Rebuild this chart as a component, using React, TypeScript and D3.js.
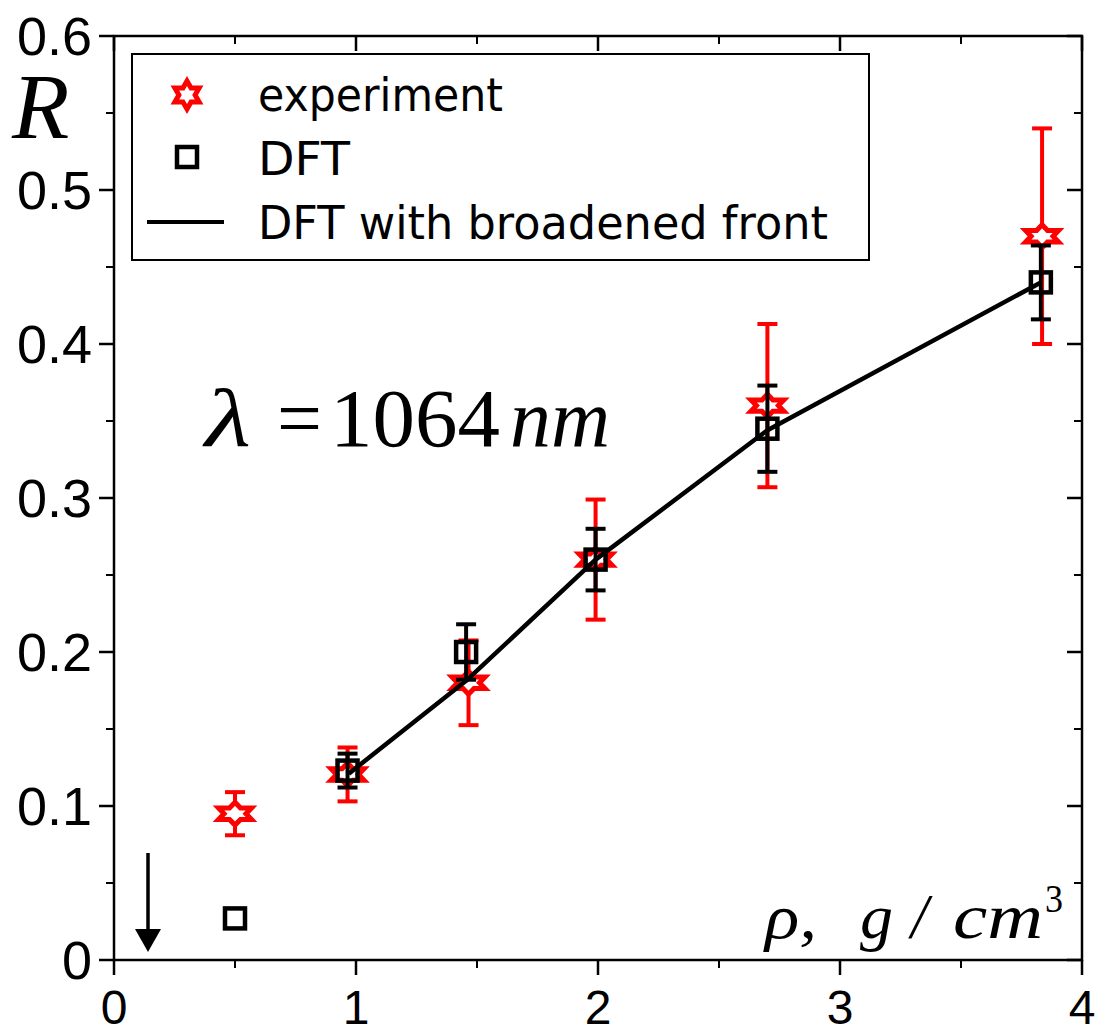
import React from "react";
import * as d3 from "d3";

const expX = [0.5, 0.965, 1.465, 1.99, 2.7, 3.835];
const expY = [0.095, 0.1205, 0.18, 0.26, 0.36, 0.47];
const expErr = [0.014, 0.0175, 0.0275, 0.039, 0.053, 0.07];

const dftX = [0.5, 0.965, 1.455, 1.99, 2.7, 3.83];
const dftY = [0.027, 0.123, 0.2, 0.26, 0.345, 0.44];
const dftErr = [0, 0.011, 0.018, 0.02, 0.028, 0.024];

const lineX = [0.97, 1.46, 1.99, 2.7, 3.83];
const lineY = [0.121, 0.182, 0.26, 0.344, 0.44];

const xMajor = [0, 1, 2, 3, 4];
const xMinor = [0.5, 1.5, 2.5, 3.5];
const yMajor = [0, 0.1, 0.2, 0.3, 0.4, 0.5, 0.6];
const yMinor = [0.05, 0.15, 0.25, 0.35, 0.45, 0.55];

const legendLabels = ["experiment", "DFT", "DFT with broadened front"];

function hexagram(cx: number, cy: number, R: number, sy: number) {
  const r = R / Math.sqrt(3);
  const pts: [number, number][] = [];
  for (let i = 0; i < 12; i++) {
    const a = -Math.PI / 2 + (i * Math.PI) / 6;
    const rr = i % 2 === 0 ? R : r;
    pts.push([cx + rr * Math.cos(a), cy + rr * Math.sin(a) * sy]);
  }
  return "M" + pts.map((p) => p.join(",")).join("L") + "Z";
}

export default function App() {
  const W = 1100, H = 1035;
  const x = d3.scaleLinear().domain([0, 4]).range([114, 1082]);
  const y = d3.scaleLinear().domain([0, 0.6]).range([960, 36]);
  const line = d3.line<number>().x((_, i) => x(lineX[i])).y((d) => y(d));
  const sans = "'Liberation Sans', Arial, sans-serif";
  const serif = "'Liberation Serif', 'Times New Roman', serif";
  const legFont = "'DejaVu Sans', Tahoma, sans-serif";
  const red = "#ff0000";
  const cap = 10;
  const fmt = (v: number) => (v === 0 ? "0" : d3.format(".1f")(v));

  return (
    <svg width={W} height={H} style={{ display: "block", position: "absolute", left: 0, top: 0, background: "#fff" }}>
      <rect x={0} y={0} width={W} height={H} fill="#fff" />
      {/* frame */}
      <rect x={x(0)} y={y(0.6)} width={x(4) - x(0)} height={y(0) - y(0.6)} fill="none" stroke="#000" strokeWidth={2.5} />
      {/* x ticks */}
      {xMajor.map((v) => (
        <g key={"xm" + v}>
          <line x1={x(v)} x2={x(v)} y1={y(0)} y2={y(0) + 15} stroke="#000" strokeWidth={2.5} />
          <line x1={x(v)} x2={x(v)} y1={y(0.6)} y2={y(0.6) + 15} stroke="#000" strokeWidth={2.5} />
          <text x={x(v)} y={1024} fontFamily={sans} fontSize={48} textAnchor="middle">{v}</text>
        </g>
      ))}
      {xMinor.map((v) => (
        <g key={"xn" + v}>
          <line x1={x(v)} x2={x(v)} y1={y(0)} y2={y(0) + 8} stroke="#000" strokeWidth={2} />
          <line x1={x(v)} x2={x(v)} y1={y(0.6)} y2={y(0.6) + 8} stroke="#000" strokeWidth={2} />
        </g>
      ))}
      {/* y ticks */}
      {yMajor.map((v) => (
        <g key={"ym" + v}>
          <line x1={x(0) - 15} x2={x(0)} y1={y(v)} y2={y(v)} stroke="#000" strokeWidth={2.5} />
          <line x1={x(4) - 15} x2={x(4)} y1={y(v)} y2={y(v)} stroke="#000" strokeWidth={2.5} />
          <text x={92} y={y(v) + 19} fontFamily={sans} fontSize={54} textAnchor="end">{fmt(v)}</text>
        </g>
      ))}
      {yMinor.map((v) => (
        <g key={"yn" + v}>
          <line x1={x(0) - 8} x2={x(0)} y1={y(v)} y2={y(v)} stroke="#000" strokeWidth={2} />
          <line x1={x(4) - 8} x2={x(4)} y1={y(v)} y2={y(v)} stroke="#000" strokeWidth={2} />
        </g>
      ))}
      {/* experiment error bars */}
      {expX.map((v, i) => (
        <g key={"ee" + i} stroke={red} strokeWidth={4}>
          <line x1={x(v)} x2={x(v)} y1={y(expY[i] - expErr[i])} y2={y(expY[i] + expErr[i])} />
          <line x1={x(v) - cap} x2={x(v) + cap} y1={y(expY[i] - expErr[i])} y2={y(expY[i] - expErr[i])} />
          <line x1={x(v) - cap} x2={x(v) + cap} y1={y(expY[i] + expErr[i])} y2={y(expY[i] + expErr[i])} />
        </g>
      ))}
      {expX.map((v, i) => (
        <path key={"es" + i} d={hexagram(x(v), y(expY[i]), 19, 0.6)} fill="#fff" stroke={red} strokeWidth={5} strokeLinejoin="miter" />
      ))}
      {/* DFT error bars */}
      {dftX.map((v, i) =>
        dftErr[i] > 0 ? (
          <g key={"de" + i} stroke="#000" strokeWidth={4}>
            <line x1={x(v)} x2={x(v)} y1={y(dftY[i] - dftErr[i])} y2={y(dftY[i] + dftErr[i])} />
            <line x1={x(v) - cap} x2={x(v) + cap} y1={y(dftY[i] - dftErr[i])} y2={y(dftY[i] - dftErr[i])} />
            <line x1={x(v) - cap} x2={x(v) + cap} y1={y(dftY[i] + dftErr[i])} y2={y(dftY[i] + dftErr[i])} />
          </g>
        ) : null
      )}
      {dftX.map((v, i) => (
        <rect key={"ds" + i} x={x(v) - 10} y={y(dftY[i]) - 10} width={20} height={20} fill="none" stroke="#000" strokeWidth={4.5} />
      ))}
      {/* broadened front line */}
      <path d={line(lineY) || ""} fill="none" stroke="#000" strokeWidth={4.5} strokeLinejoin="round" />
      {/* legend */}
      <rect x={132} y={54} width={737} height={206} fill="#fff" stroke="#000" strokeWidth={2} />
      <path d={hexagram(187, 95, 14, 1)} fill="#fff" stroke={red} strokeWidth={5} />
      <rect x={177} y={147} width={20} height={20} fill="none" stroke="#000" strokeWidth={4.5} />
      <line x1={147} x2={224} y1={222} y2={222} stroke="#000" strokeWidth={4} />
      <text x={258} y={111} fontFamily={legFont} fontSize={47} textLength={245} lengthAdjust="spacingAndGlyphs">{legendLabels[0]}</text>
      <text x={258} y={175} fontFamily={legFont} fontSize={46} textLength={92} lengthAdjust="spacingAndGlyphs">{legendLabels[1]}</text>
      <text x={258} y={239} fontFamily={legFont} fontSize={46} textLength={570} lengthAdjust="spacingAndGlyphs">{legendLabels[2]}</text>
      {/* R label */}
      <text x={12} y={138} fontFamily={serif} fontStyle="italic" fontSize={94}>R</text>
      {/* lambda */}
      <text x={205} y={446} fontFamily={serif} fontSize={82} fontStyle="italic" textLength={46} lengthAdjust="spacingAndGlyphs">λ</text>
      <text x={277} y={446} fontFamily={serif} fontSize={82} textLength={45} lengthAdjust="spacingAndGlyphs">=</text>
      <text x={330} y={446} fontFamily={serif} fontSize={82} textLength={170} lengthAdjust="spacingAndGlyphs">1064</text>
      <text x={510} y={446} fontFamily={serif} fontSize={82} fontStyle="italic" textLength={100} lengthAdjust="spacingAndGlyphs">nm</text>
      {/* x axis label */}
      <text x={765} y={938} fontFamily={serif} fontSize={64} fontStyle="italic" textLength={52} lengthAdjust="spacingAndGlyphs">ρ,</text>
      <text x={860} y={938} fontFamily={serif} fontSize={64} fontStyle="italic" textLength={33} lengthAdjust="spacingAndGlyphs">g</text>
      <text x={911} y={938} fontFamily={serif} fontSize={64} fontStyle="italic" textLength={17} lengthAdjust="spacingAndGlyphs">/</text>
      <text x={953} y={938} fontFamily={serif} fontSize={64} fontStyle="italic" textLength={90} lengthAdjust="spacingAndGlyphs">cm</text>
      <text x={1045} y={912} fontFamily={serif} fontSize={40} textLength={18} lengthAdjust="spacingAndGlyphs">3</text>
      {/* arrow */}
      <line x1={148} x2={148} y1={853} y2={932} stroke="#000" strokeWidth={3.5} />
      <path d="M135,929 L161,929 L148,952 Z" fill="#000" />
    </svg>
  );
}
